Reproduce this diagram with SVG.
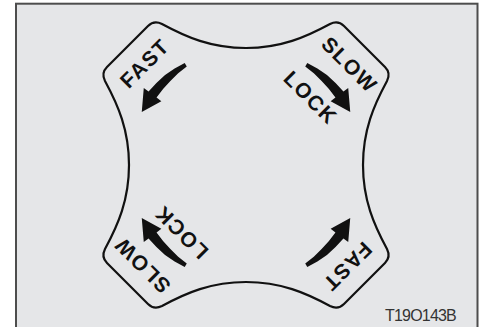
<svg xmlns="http://www.w3.org/2000/svg" width="480" height="327" viewBox="0 0 480 327">
<style>
.lbl{font-family:"Liberation Sans",Arial,sans-serif;font-weight:bold;font-size:21px;letter-spacing:1.5px;fill:#111;text-anchor:middle}
.code{font-family:"Liberation Sans",Arial,sans-serif;font-size:16px;fill:#333;letter-spacing:-0.8px}
.outline{fill:none;stroke:#111;stroke-width:2.2;stroke-linejoin:round}
.arrow{fill:#111}
</style>
<defs>
<path id="arr" d="M184.71,62.99 L174.62,68.53 L165.04,75.08 L156.42,82.91 L148.57,91.58 L143.78,87.97 L141.75,111.88 L161.35,101.21 L156.56,97.60 L163.05,88.99 L170.39,81.03 L178.19,73.36 L186.77,66.42 Z"/>
</defs>
<rect x="0" y="0" width="480" height="327" fill="#ffffff"/>
<rect id="frame" x="16" y="3.7" width="461.5" height="340" fill="#e5e6e8" stroke="#4d4d4d" stroke-width="2"/>
<g id="knob">
<path class="outline" d="M246,48 C211,48 186,37 162,24 Q154,20 148,26 L107,67 Q101,73 105,81 C118,105 129,130 129,165 C129,200 118,225 105,249 Q101,257 107,263 L148,304 Q154,310 162,306 C186,293 211,282 246,282 C281,282 306,293 330,306 Q338,310 344,304 L385,263 Q391,257 387,249 C374,225 363,200 363,165 C363,130 374,105 387,81 Q391,73 385,67 L344,26 Q338,20 330,24 C306,37 281,48 246,48 Z"/>
</g>
<g id="connectors">
<use href="#arr" class="arrow"/>
<use href="#arr" class="arrow" transform="translate(492,0) scale(-1,1)"/>
<use href="#arr" class="arrow" transform="rotate(180 246 165)"/>
<use href="#arr" class="arrow" transform="translate(0,330) scale(1,-1)"/>
</g>
<g id="tl-fast"><text class="lbl" x="145" y="64" dy="0.35em" transform="rotate(-45 144 64)">FAST</text></g>
<g id="tr-slow"><text class="lbl" x="350" y="64" dy="0.35em" transform="rotate(45 349 64)">SLOW</text></g>
<g id="tr-lock"><text class="lbl" x="311" y="97" dy="0.35em" transform="rotate(45 310 97)">LOCK</text></g>
<g id="br-fast"><text class="lbl" x="349" y="266" dy="0.35em" transform="rotate(135 348 266)">FAST</text></g>
<g id="bl-slow"><text class="lbl" x="144" y="266" dy="0.35em" transform="rotate(225 143 266)">SLOW</text></g>
<g id="bl-lock"><text class="lbl" x="183" y="233" dy="0.35em" transform="rotate(225 182 233)">LOCK</text></g>
<text class="code" x="385" y="321">T19O143B</text>
</svg>
